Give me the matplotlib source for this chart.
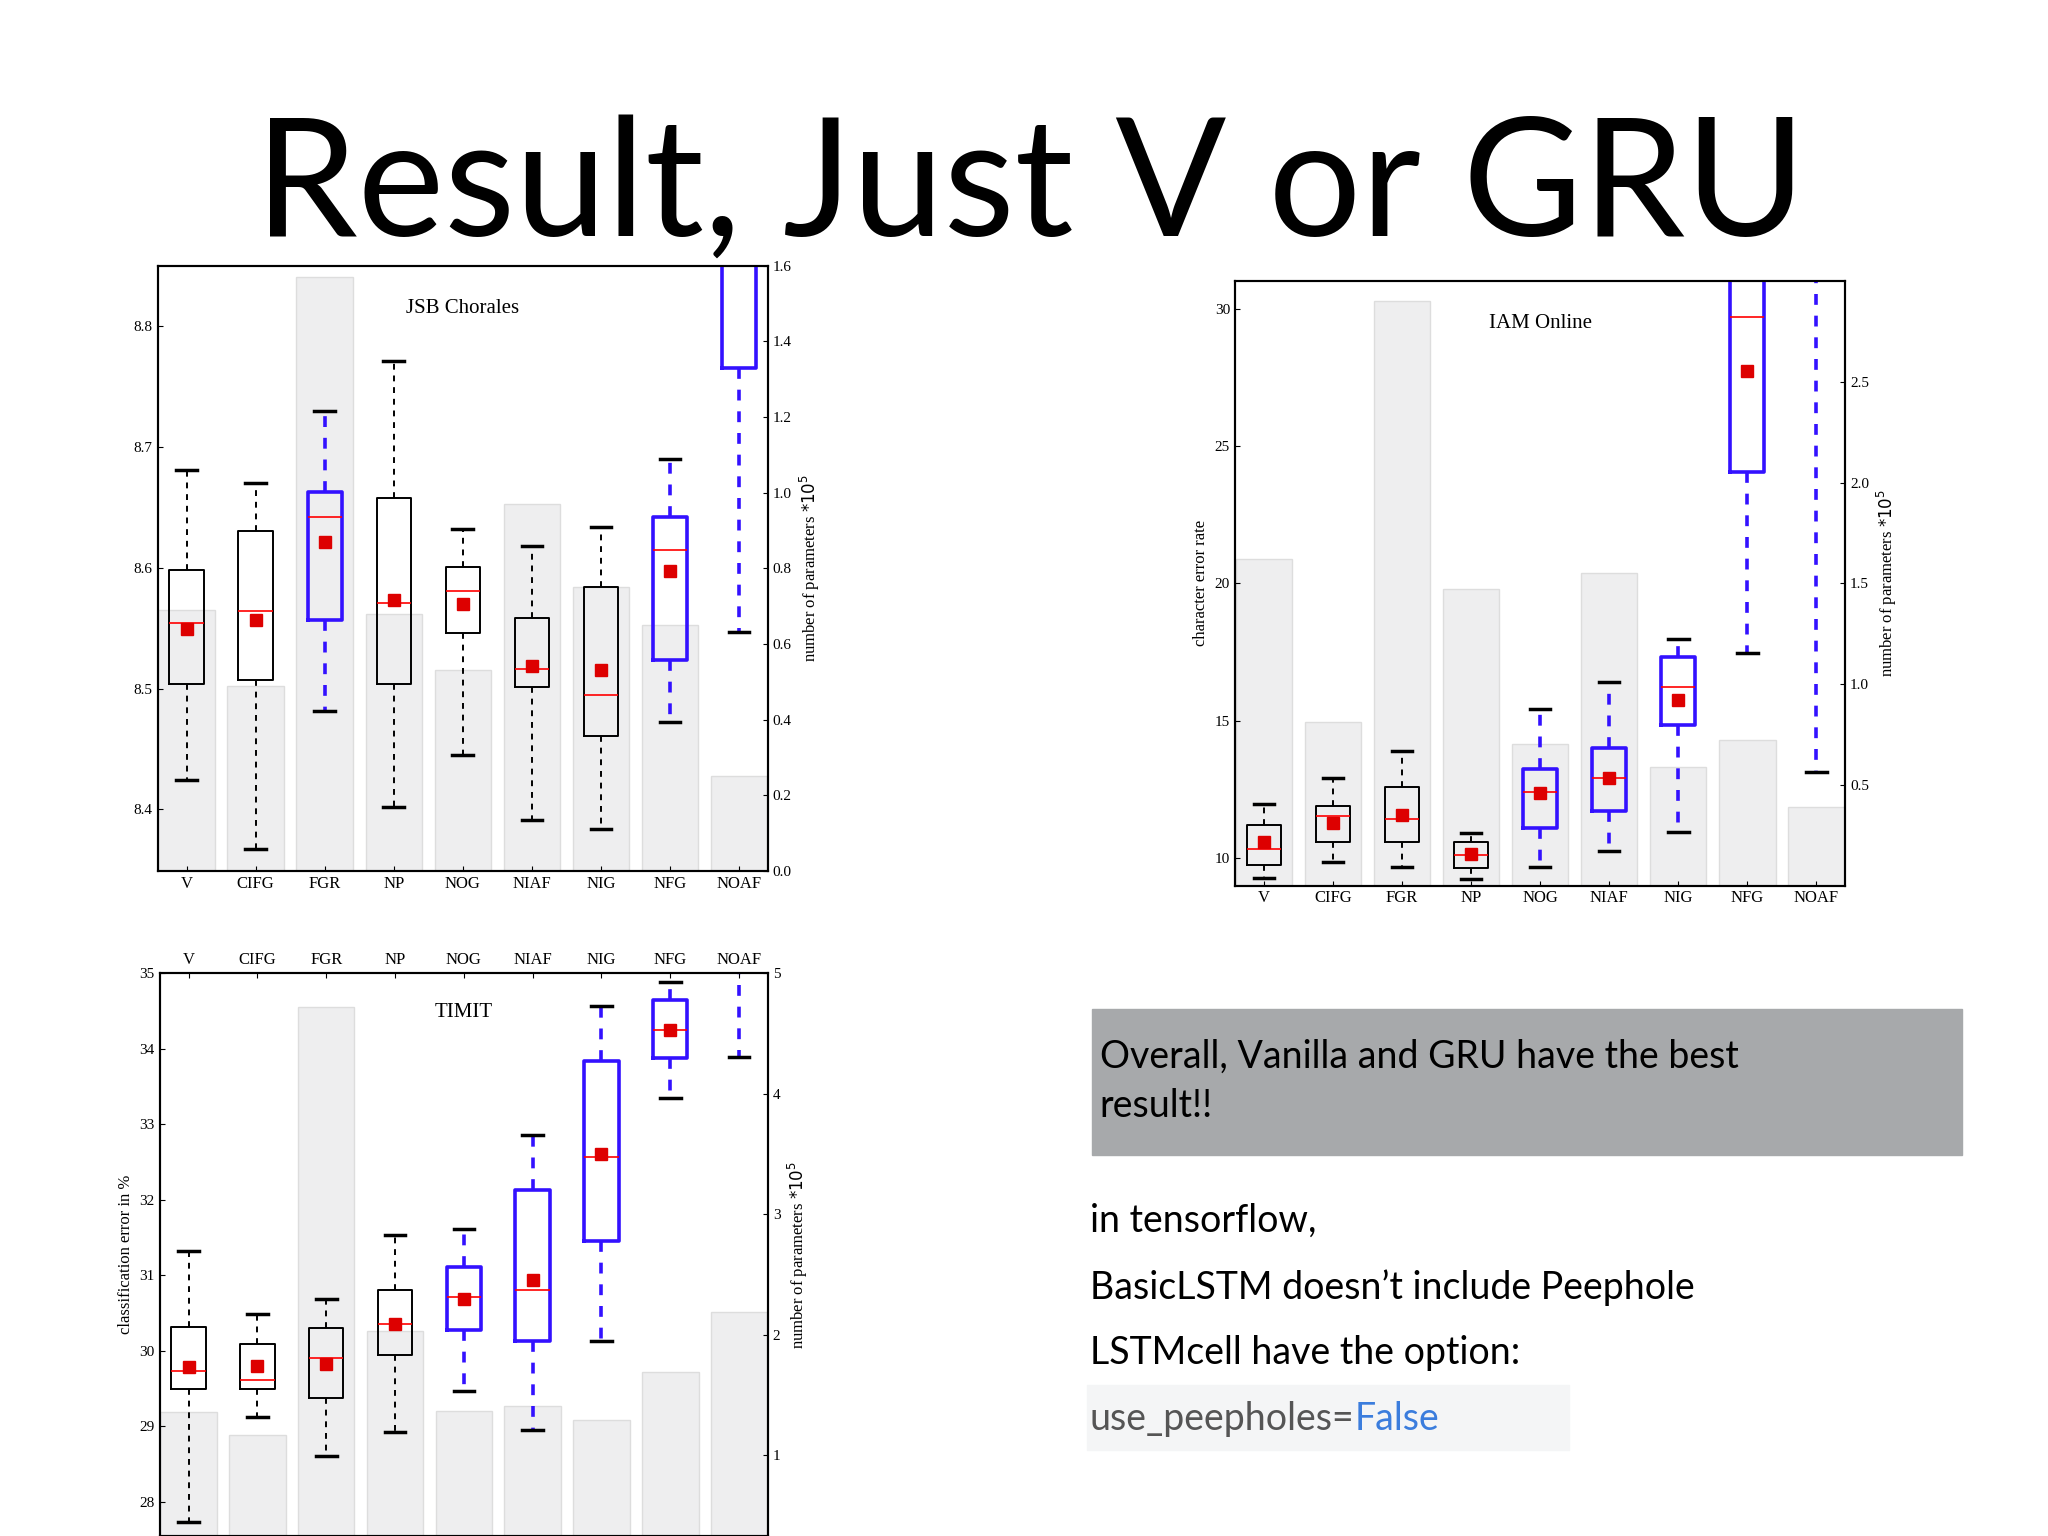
import matplotlib
matplotlib.use("Agg")
import matplotlib.pyplot as plt

cats = ["V", "CIFG", "FGR", "NP", "NOG", "NIAF", "NIG", "NFG", "NOAF"]

# JSB Chorales
jsb_params = [0.69, 0.49, 1.57, 0.68, 0.53, 0.97, 0.75, 0.65, 0.25]
jsb_whislo = [8.424, 8.367, 8.481, 8.402, 8.445, 8.391, 8.384, 8.472, 8.547]
jsb_q1     = [8.504, 8.507, 8.557, 8.504, 8.546, 8.501, 8.461, 8.524, 8.765]
jsb_med    = [8.554, 8.564, 8.642, 8.571, 8.581, 8.516, 8.495, 8.615, 9.0]
jsb_q3     = [8.598, 8.630, 8.663, 8.658, 8.601, 8.558, 8.584, 8.642, 9.1]
jsb_whishi = [8.681, 8.670, 8.730, 8.771, 8.632, 8.618, 8.634, 8.690, 9.2]
jsb_mean   = [8.549, 8.557, 8.621, 8.573, 8.570, 8.519, 8.515, 8.597, 9.0]

# IAM Online
iam_params = [1.62, 0.81, 2.90, 1.47, 0.70, 1.55, 0.59, 0.72, 0.39]
iam_whislo = [9.29, 9.86, 9.67, 9.24, 9.67, 10.24, 10.95, 17.46, 13.14]
iam_q1     = [9.76, 10.57, 10.57, 9.62, 11.09, 11.71, 14.85, 24.06, 40.0]
iam_med    = [10.33, 11.52, 11.43, 10.10, 12.42, 12.90, 16.22, 29.71, 40.0]
iam_q3     = [11.19, 11.90, 12.57, 10.57, 13.23, 13.99, 17.32, 40.0, 40.0]
iam_whishi = [11.95, 12.90, 13.90, 10.90, 15.42, 16.41, 17.98, 45.0, 45.0]
iam_mean   = [10.57, 11.28, 11.57, 10.14, 12.38, 12.90, 15.75, 27.72, 40.0]

# TIMIT
tim_params = [1.36, 1.17, 4.72, 2.03, 1.37, 1.41, 1.29, 1.69, 2.19]
tim_whislo = [27.74, 29.12, 28.61, 28.93, 29.47, 28.95, 30.13, 33.34, 33.89]
tim_q1     = [29.49, 29.49, 29.38, 29.94, 30.28, 30.13, 31.46, 33.88, 40.0]
tim_med    = [29.73, 29.61, 29.90, 30.35, 30.71, 30.80, 32.56, 34.24, 40.0]
tim_q3     = [30.32, 30.09, 30.30, 30.80, 31.11, 32.13, 33.84, 34.65, 40.0]
tim_whishi = [31.32, 30.49, 30.68, 31.54, 31.61, 32.86, 34.57, 34.88, 45.0]
tim_mean   = [29.78, 29.80, 29.83, 30.35, 30.68, 30.94, 32.60, 34.24, 40.0]

blue_jsb = {2, 7, 8}
blue_iam = {4, 5, 6, 7, 8}
blue_tim = {4, 5, 6, 7, 8}

serif = ["Liberation Serif", "DejaVu Serif"]
fig = plt.figure(figsize=(20.48, 15.36), dpi=100)

def panel(rect, params, wl, q1, med, q3, wh, mean, blues, ylim, y2lim, yticks, y2ticks,
          title, title_xy, ylabel=None, top_labels=False):
    ax = fig.add_axes(rect)
    ax2 = ax.twinx()
    ax.set_zorder(ax2.get_zorder() + 1)
    ax.patch.set_visible(False)
    x = list(range(len(cats)))
    ax2.bar(x, params, width=0.82, color="#eeeeef", edgecolor="#dddddd", linewidth=1)
    ax2.set_ylim(*y2lim)
    ax2.set_yticks(y2ticks)
    ax2.set_yticklabels([str(t) for t in y2ticks], fontsize=11, family=serif)
    ax2.set_ylabel("number of parameters $*10^5$", fontsize=12, family=serif)
    for i in x:
        blue = i in blues
        col = "#3311ff" if blue else "black"
        lw = 2.6 if blue else 1.4
        st = [dict(whislo=wl[i], q1=q1[i], med=med[i], q3=q3[i], whishi=wh[i], mean=mean[i], fliers=[])]
        ax.bxp(st, positions=[i], widths=0.5, showmeans=True, showfliers=False,
               boxprops=dict(color=col, linewidth=lw),
               whiskerprops=dict(color=col, linewidth=lw, linestyle=(0, (3, 3))),
               capprops=dict(color="black", linewidth=2.5),
               medianprops=dict(color="red", linewidth=1.2),
               meanprops=dict(marker="s", markerfacecolor="#dd0000", markeredgecolor="#dd0000", markersize=8),
               capwidths=0.3, manage_ticks=False)
    ax.set_xlim(-0.42, 8.42)
    ax.set_ylim(*ylim)
    ax.set_yticks(yticks)
    ax.set_yticklabels([("%g" % t) for t in yticks], fontsize=11, family=serif)
    ax.set_xticks(x)
    ax.set_xticklabels(cats, fontsize=12, family=serif)
    if top_labels:
        ax.xaxis.tick_top()
    ax.tick_params(direction="in")
    ax2.tick_params(direction="in")
    for a in (ax, ax2):
        for s in a.spines.values():
            s.set_linewidth(1.5)
    if ylabel:
        ax.set_ylabel(ylabel, fontsize=12, family=serif)
    ax.text(*title_xy, title, transform=ax.transAxes, fontsize=15, family=serif, ha="center", va="center")

panel([0.077, 0.433, 0.298, 0.394], jsb_params, jsb_whislo, jsb_q1, jsb_med, jsb_q3, jsb_whishi, jsb_mean,
      blue_jsb, (8.349, 8.85), (0, 1.6), [8.4, 8.5, 8.6, 8.7, 8.8], [0.0, 0.2, 0.4, 0.6, 0.8, 1.0, 1.2, 1.4, 1.6],
      "JSB Chorales", (0.5, 0.93))
panel([0.603, 0.4235, 0.298, 0.3935], iam_params, iam_whislo, iam_q1, iam_med, iam_q3, iam_whishi, iam_mean,
      blue_iam, (9.0, 31.0), (0, 3.0), [10, 15, 20, 25, 30], [0.5, 1.0, 1.5, 2.0, 2.5],
      "IAM Online", (0.5, 0.93), ylabel="character error rate")
panel([0.078, 0.0, 0.297, 0.3665], tim_params, tim_whislo, tim_q1, tim_med, tim_q3, tim_whishi, tim_mean,
      blue_tim, (27.55, 35), (0.33, 5), [28, 29, 30, 31, 32, 33, 34, 35], [1, 2, 3, 4, 5],
      "TIMIT", (0.5, 0.93), ylabel="classification error in %", top_labels=True)

fig.text(0.503, 0.877, "Result, Just V or GRU", fontsize=118, family="Lato", ha="center", va="center")

box = plt.Rectangle((0.533, 0.248), 0.425, 0.095, transform=fig.transFigure, color="#a7a9ab", zorder=0)
fig.patches.append(box)
fig.text(0.537, 0.296, "Overall, Vanilla and GRU have the best\nresult!!", fontsize=27, family="Lato",
         va="center", ha="left", linespacing=1.45)

lines = ["in tensorflow,", "BasicLSTM doesn\u2019t include Peephole", "LSTMcell have the option:"]
ys = [0.205, 0.162, 0.119]
for t, y in zip(lines, ys):
    fig.text(0.532, y, t, fontsize=27, family="Lato", va="center", ha="left")
bg = plt.Rectangle((0.531, 0.056), 0.235, 0.042, transform=fig.transFigure, color="#f4f5f6", zorder=0)
fig.patches.append(bg)
t1 = fig.text(0.532, 0.076, "use_peepholes=", fontsize=27, family="Lato", va="center", ha="left", color="#555555")
fig.canvas.draw()
bb = t1.get_window_extent()
fig.text(bb.x1 / fig.bbox.width, 0.076, "False", fontsize=27, family="Lato", va="center", ha="left", color="#3b7ddd")

fig.savefig("out.png", dpi=100)
